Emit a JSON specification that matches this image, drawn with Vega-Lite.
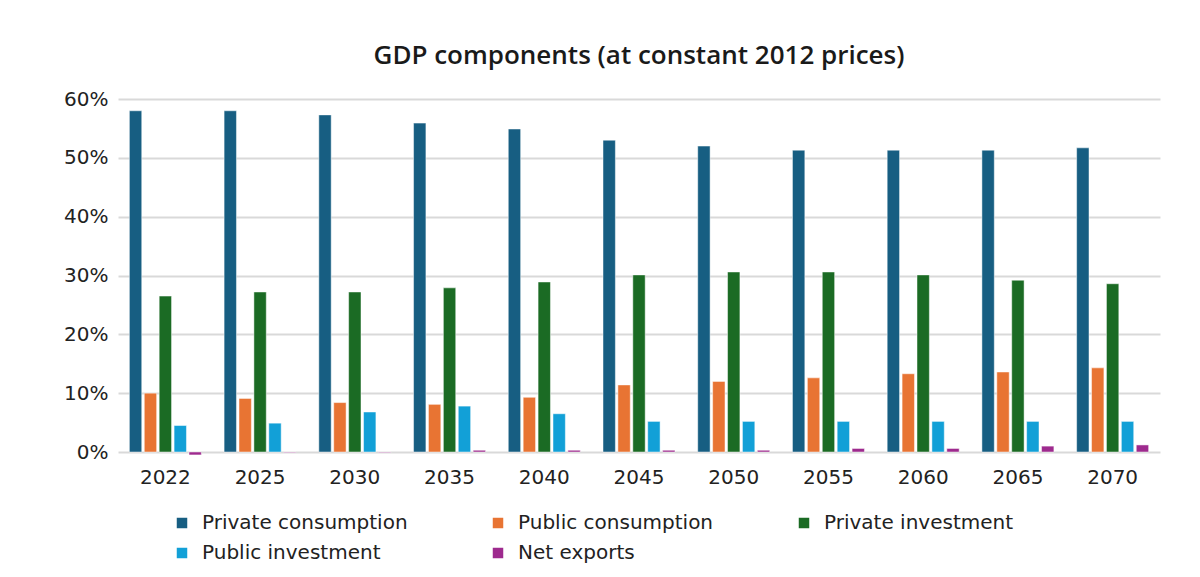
{
  "$schema": "https://vega.github.io/schema/vega-lite/v6.json",
  "width": 1042,
  "height": 353,
  "autosize": {"type": "none"},
  "padding": {"left": 118, "right": 40, "top": 99, "bottom": 125},
  "background": "white",
  "title": {
    "text": "GDP components (at constant 2012 prices)",
    "fontSize": 26,
    "fontWeight": 600,
    "font": "Open Sans",
    "color": "#1a1a1a",
    "anchor": "middle",
    "offset": 20
  },
  "data": {
    "values": [
      {"year": "2022", "component": "Private consumption", "value": 58.0},
      {"year": "2022", "component": "Public consumption", "value": 10.0},
      {"year": "2022", "component": "Private investment", "value": 26.5},
      {"year": "2022", "component": "Public investment", "value": 4.5},
      {"year": "2022", "component": "Net exports", "value": -0.5},
      {"year": "2025", "component": "Private consumption", "value": 58.0},
      {"year": "2025", "component": "Public consumption", "value": 9.1},
      {"year": "2025", "component": "Private investment", "value": 27.2},
      {"year": "2025", "component": "Public investment", "value": 4.9},
      {"year": "2025", "component": "Net exports", "value": -0.1},
      {"year": "2030", "component": "Private consumption", "value": 57.3},
      {"year": "2030", "component": "Public consumption", "value": 8.4},
      {"year": "2030", "component": "Private investment", "value": 27.2},
      {"year": "2030", "component": "Public investment", "value": 6.8},
      {"year": "2030", "component": "Net exports", "value": -0.1},
      {"year": "2035", "component": "Private consumption", "value": 55.9},
      {"year": "2035", "component": "Public consumption", "value": 8.1},
      {"year": "2035", "component": "Private investment", "value": 27.9},
      {"year": "2035", "component": "Public investment", "value": 7.8},
      {"year": "2035", "component": "Net exports", "value": 0.3},
      {"year": "2040", "component": "Private consumption", "value": 54.9},
      {"year": "2040", "component": "Public consumption", "value": 9.3},
      {"year": "2040", "component": "Private investment", "value": 28.9},
      {"year": "2040", "component": "Public investment", "value": 6.5},
      {"year": "2040", "component": "Net exports", "value": 0.3},
      {"year": "2045", "component": "Private consumption", "value": 53.0},
      {"year": "2045", "component": "Public consumption", "value": 11.4},
      {"year": "2045", "component": "Private investment", "value": 30.1},
      {"year": "2045", "component": "Public investment", "value": 5.2},
      {"year": "2045", "component": "Net exports", "value": 0.3},
      {"year": "2050", "component": "Private consumption", "value": 52.0},
      {"year": "2050", "component": "Public consumption", "value": 12.0},
      {"year": "2050", "component": "Private investment", "value": 30.6},
      {"year": "2050", "component": "Public investment", "value": 5.2},
      {"year": "2050", "component": "Net exports", "value": 0.3},
      {"year": "2055", "component": "Private consumption", "value": 51.3},
      {"year": "2055", "component": "Public consumption", "value": 12.6},
      {"year": "2055", "component": "Private investment", "value": 30.6},
      {"year": "2055", "component": "Public investment", "value": 5.2},
      {"year": "2055", "component": "Net exports", "value": 0.6},
      {"year": "2060", "component": "Private consumption", "value": 51.3},
      {"year": "2060", "component": "Public consumption", "value": 13.3},
      {"year": "2060", "component": "Private investment", "value": 30.1},
      {"year": "2060", "component": "Public investment", "value": 5.2},
      {"year": "2060", "component": "Net exports", "value": 0.6},
      {"year": "2065", "component": "Private consumption", "value": 51.3},
      {"year": "2065", "component": "Public consumption", "value": 13.6},
      {"year": "2065", "component": "Private investment", "value": 29.2},
      {"year": "2065", "component": "Public investment", "value": 5.2},
      {"year": "2065", "component": "Net exports", "value": 1.0},
      {"year": "2070", "component": "Private consumption", "value": 51.7},
      {"year": "2070", "component": "Public consumption", "value": 14.3},
      {"year": "2070", "component": "Private investment", "value": 28.6},
      {"year": "2070", "component": "Public investment", "value": 5.2},
      {"year": "2070", "component": "Net exports", "value": 1.2}
    ]
  },
  "mark": {"type": "bar", "stroke": "white", "strokeWidth": 0.8, "strokeOpacity": 0.6},
  "encoding": {
    "x": {
      "field": "year",
      "type": "nominal",
      "sort": null,
      "title": null,
      "scale": {"paddingInner": 0.24, "paddingOuter": 0.12},
      "axis": {
        "labelAngle": 0,
        "labelFontSize": 20,
        "labelFont": "DejaVu Sans",
        "labelColor": "#222222",
        "ticks": false,
        "domain": false,
        "labelPadding": 15
      }
    },
    "xOffset": {
      "field": "component",
      "type": "nominal",
      "sort": ["Private consumption", "Public consumption", "Private investment", "Public investment", "Net exports"],
      "scale": {"paddingInner": 0.17}
    },
    "y": {
      "field": "value",
      "type": "quantitative",
      "title": null,
      "scale": {"domain": [0, 60], "nice": false},
      "axis": {
        "values": [0, 10, 20, 30, 40, 50, 60],
        "labelExpr": "datum.value + '%'",
        "labelFontSize": 20,
        "labelFont": "DejaVu Sans",
        "labelColor": "#222222",
        "ticks": false,
        "domain": false,
        "gridColor": "#d9d9d9",
        "gridWidth": 2,
        "labelPadding": 10
      }
    },
    "color": {
      "field": "component",
      "type": "nominal",
      "sort": ["Private consumption", "Public consumption", "Private investment", "Public investment", "Net exports"],
      "scale": {
        "domain": ["Private consumption", "Public consumption", "Private investment", "Public investment", "Net exports"],
        "range": ["#175e82", "#e87433", "#1b6b24", "#12a0d7", "#9e2a8e"]
      },
      "legend": {
        "title": null,
        "orient": "none",
        "legendX": 54,
        "legendY": 414,
        "direction": "horizontal",
        "columns": 3,
        "gridAlign": "each",
        "columnPadding": 80,
        "rowPadding": 10,
        "symbolType": "square",
        "symbolSize": 110,
        "symbolStrokeWidth": 0,
        "symbolOffset": 0,
        "labelOffset": 10,
        "labelFontSize": 20,
        "labelFont": "DejaVu Sans",
        "labelColor": "#222222",
        "labelLimit": 400
      }
    }
  },
  "config": {
    "view": {"stroke": null}
  }
}
